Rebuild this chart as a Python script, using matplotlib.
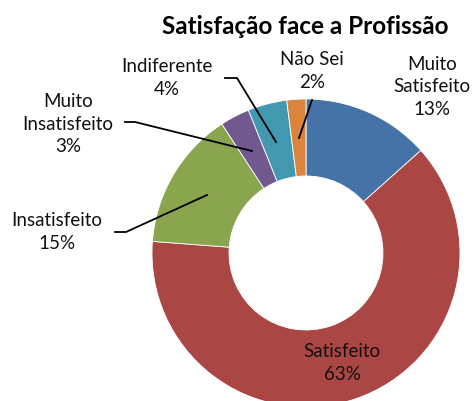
import matplotlib.pyplot as plt

# ---------------------------------------------- data
categories = ['Muito\nSatisfeito', 'Satisfeito', 'Insatisfeito',
              'Muito\nInsatisfeito', 'Indiferente', 'Não Sei']
shares = [13.4, 62.8, 14.6, 3.1, 4.1, 2.0]
colors = ['#4572A7', '#AA4643', '#89A54E', '#71588F', '#4198AF', '#DB843D']

W, H = 475, 401


def py(y):
    # image rows (top down) -> axis units (bottom up)
    return H - y


plt.rcParams['font.family'] = ['Lato', 'DejaVu Sans']

fig = plt.figure(figsize=(W / 100, H / 100), dpi=100)
ax = fig.add_axes([0, 0, 1, 1])

ax.pie(shares, colors=colors, startangle=90, counterclock=False,
       center=(306, py(253)), radius=154, frame=True,
       wedgeprops=dict(width=77, edgecolor='white', linewidth=0.6))
ax.set_xlim(0, W)
ax.set_ylim(0, H)
ax.set_aspect('equal')
ax.axis('off')

# ---------------------------------------------- labels
label_pos = [(432, 87), (342, 363), (57, 232), (68, 124), (167, 78), (312, 71)]
for name, val, (x, y) in zip(categories, shares, label_pos):
    ax.text(x, py(y), f'{name}\n{round(val)}%', ha='center', va='center',
            fontsize=13.5, linespacing=1.4, color='#111111')

# ---------------------------------------------- leader lines
leaders = [
    [(312, 100), (299, 138)],
    [(225, 78), (237, 78), (276, 142)],
    [(125, 122), (135, 122), (252, 151)],
    [(115, 232), (126, 232), (207, 195)],
]
for pts in leaders:
    ax.plot([p[0] for p in pts], [py(p[1]) for p in pts], color='black', lw=1.3)

ax.text(305, py(26), 'Satisfação face a Profissão', ha='center', va='center',
        fontsize=17.5, fontweight='bold')

fig.savefig('out.png', dpi=100)
